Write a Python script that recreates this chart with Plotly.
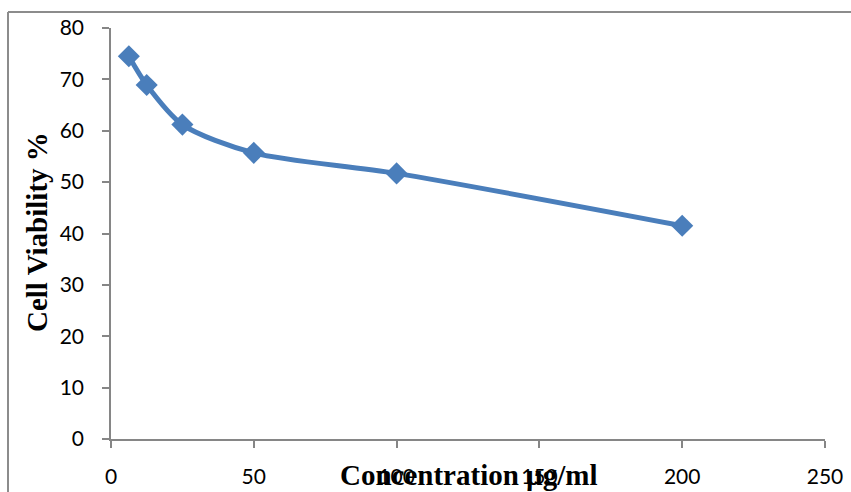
import plotly.graph_objects as go

concentration = [6.25, 12.5, 25, 50, 100, 200]
viability = [74.5, 68.9, 61.2, 55.7, 51.7, 41.5]
x_ticks = [0, 50, 100, 150, 200, 250]
y_ticks = [0, 10, 20, 30, 40, 50, 60, 70, 80]

W, H = 851, 492
L, R, T, B = 111, 26, 28, 53
pw, ph = W - L - R, H - T - B

fig = go.Figure()
fig.add_trace(go.Scatter(
    x=concentration, y=viability, mode="lines+markers",
    line=dict(color="#4A7EBB", width=5, shape="spline", smoothing=0.8),
    marker=dict(symbol="diamond", size=17, color="#4A7EBB"),
    showlegend=False, cliponaxis=False,
))

axis_common = dict(
    showgrid=False, zeroline=False, showline=True, linecolor="#868686", linewidth=1.5,
    ticks="outside", ticklen=7, tickcolor="#868686", tickwidth=1.5, automargin=False,
    tickfont=dict(family="Lato", size=21, color="black"),
)
fig.update_xaxes(range=[0, 250], tickvals=x_ticks, ticklabelstandoff=11, **axis_common)
fig.update_yaxes(range=[0, 80], tickvals=y_ticks, ticklabelstandoff=14, **axis_common)

fig.add_annotation(
    text="<b>Concentration µg/ml</b>", xref="paper", yref="paper",
    x=(469 - L) / pw, y=(H - 475 - B) / ph, showarrow=False,
    font=dict(family="Liberation Serif", size=29, color="black"),
    xanchor="center", yanchor="middle",
)
fig.add_annotation(
    text="<b>Cell Viability %</b>", xref="paper", yref="paper",
    x=(37 - L) / pw, y=(H - 232 - B) / ph, showarrow=False, textangle=-90,
    font=dict(family="Liberation Serif", size=29, color="black"),
    xanchor="center", yanchor="middle",
)
# outer chart border (left and top visible)
fig.add_shape(type="line", xref="paper", yref="paper",
              x0=(8 - L) / pw, x1=(8 - L) / pw, y0=(H - 12 - B) / ph, y1=(H - 500 - B) / ph,
              line=dict(color="#8c8c8c", width=2))
fig.add_shape(type="line", xref="paper", yref="paper",
              x0=(8 - L) / pw, x1=(860 - L) / pw, y0=(H - 12 - B) / ph, y1=(H - 12 - B) / ph,
              line=dict(color="#8c8c8c", width=2))

fig.update_layout(
    width=W, height=H, margin=dict(l=L, r=R, t=T, b=B),
    paper_bgcolor="white", plot_bgcolor="white",
)
fig.write_html("out.html")
